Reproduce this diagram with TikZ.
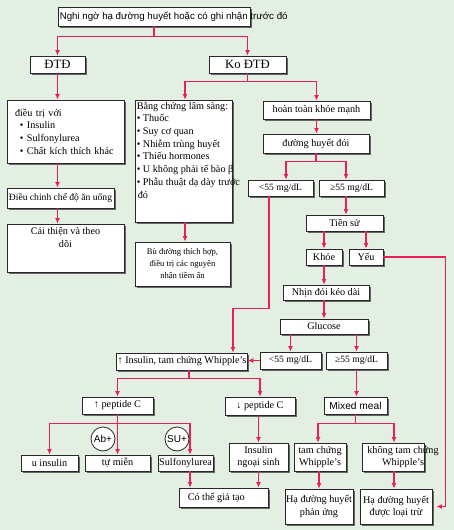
\documentclass[tikz,border=0pt]{standalone}
\usepackage{fontspec}
\setmainfont{Liberation Serif}
\setsansfont{Liberation Sans}
\usetikzlibrary{shadows,arrows.meta}
\definecolor{bgc}{RGB}{227,239,227}
\definecolor{arrc}{RGB}{230,32,88}
\definecolor{bordc}{RGB}{40,40,40}
\newcommand\myfn{\fontsize{10.2}{12.7}\selectfont}
\newcommand\mybig{\fontsize{12.7}{14}\selectfont}
\newcommand\mymg{\fontsize{9.6}{12}\selectfont}
\newcommand\mynarrow{\fontsize{8.6}{12}\selectfont}
\newcommand\mysans{\sffamily\fontsize{9.7}{12}\selectfont}
\begin{document}
\begin{tikzpicture}[x=1pt,y=-1pt,
  box/.style={draw=bordc,fill=white,line width=0.85pt,inner sep=1pt,
    drop shadow={shadow xshift=1.8pt,shadow yshift=-1.8pt,fill=black!60,opacity=1},
    font=\myfn},
  sz/.style 2 args={minimum width=#1pt,minimum height=#2pt},
  arr/.style={draw=arrc,line width=1.3pt,-{Latex[length=5.5pt,width=5pt]}},
  circ/.style={circle,draw=bordc,fill=white,line width=0.8pt,minimum size=24pt,inner sep=0pt,font=\sffamily\fontsize{10}{12}\selectfont},
  txt/.style={inner sep=0pt,font=\myfn}
]
\fill[bgc] (0,0) rectangle (454,530);
\useasboundingbox (0,0) rectangle (454,530);

% top
\node[box,sz={192}{19},label={[txt,anchor=west,xshift=2pt,font=\mysans]west:{Nghi ngờ hạ đường huyết hoặc có ghi nhận trước đó}}] (top) at (154,16.5) {};
\node[box,sz={55}{17},font=\mybig] (dtd) at (57.5,64.5) {ĐTĐ};
\node[box,sz={77}{17},font=\mybig] (kodtd) at (247.5,64.5) {Ko ĐTĐ};

% left column
\node[box,sz={117}{63},text width=101pt,align=left] (dtri) at (65.5,131.5)
  {điều trị với\\\hspace*{5pt}• Insulin\\\hspace*{5pt}• Sulfonylurea\\\hspace*{5pt}• Chất kích thích khác};
\node[box,sz={107}{20},font=\fontsize{9.6}{12}\selectfont] (dieuchinh) at (60.5,198) {Điều chỉnh chế độ ăn uống};
\node[box,sz={117}{48},label={[txt,anchor=north,yshift=-4pt,align=center]north:{Cải thiện và theo\\dõi}}] (caithien) at (65.5,248) {};

% middle column
\node[box,sz={97}{122},label={[txt,anchor=north west,xshift=2pt,yshift=-2pt,align=left]north west:{Bằng chứng lâm sàng:\\• Thuốc\\• Suy cơ quan\\• Nhiễm trùng huyết\\• Thiếu hormones\\• U không phải tế bào β\\• Phẫu thuật dạ dày trước\\\hspace*{1pt}đó}}] (bang) at (183.5,161) {};
\node[box,sz={95}{44},align=center,font=\mynarrow] (bu) at (182.5,264) {Bù đường thích hợp,\\điều trị các nguyên\\nhân tiềm ẩn};

% right column
\node[box,sz={107}{18}] (hoan) at (316.5,110) {hoàn toàn khỏe mạnh};
\node[box,sz={106}{19}] (duong) at (316,143.5) {đường huyết đói};
\node[box,sz={65}{16},font=\mymg] (lt1) at (280.5,188) {<55 mg/dL};
\node[box,sz={65}{16},font=\mymg] (ge1) at (351.5,188) {≥55 mg/dL};
\node[box,sz={77}{16}] (tiensu) at (344.5,223) {Tiền sử};
\node[box,sz={36}{16}] (khoe) at (324,257) {Khỏe};
\node[box,sz={34}{16}] (yeu) at (366,257) {Yếu};
\node[box,sz={86}{15}] (nhin) at (326,292.5) {Nhịn đói kéo dài};
\node[box,sz={88}{15}] (glucose) at (324,326.5) {Glucose};
\node[box,sz={61}{17},font=\mymg] (lt2) at (290.5,360.5) {<55 mg/dL};
\node[box,sz={61}{17},font=\mymg] (ge2) at (356.5,360.5) {≥55 mg/dL};

% lower part
\node[box,sz={130}{17}] (upins) at (182,361.5) {↑ Insulin, tam chứng Whipple’s};
\node[box,sz={71}{17}] (uppep) at (117.5,405.5) {↑ peptide C};
\node[box,sz={70}{18}] (downpep) at (260,406) {↓ peptide C};
\node[box,sz={63}{17},font=\sffamily\fontsize{10.2}{12}\selectfont] (mixed) at (355.5,405.5) {Mixed meal};
\node[box,sz={57}{16}] (uins) at (49.5,463) {u insulin};
\node[box,sz={65}{16}] (tumien) at (117.5,463) {tự miễn};
\node[box,sz={55}{16}] (sulf) at (185.5,463) {Sulfonylurea};
\node[circ] (ab) at (103,439) {Ab+};
\node[circ] (su) at (177,439) {SU+};
\node[box,sz={59}{28},align=center] (insng) at (258.5,457) {Insulin\\ngoại sinh};
\node[box,sz={89}{19},label={[txt,anchor=west,xshift=9pt]west:{Có thể giả tạo}}] (cothe) at (223.5,497.5) {};
\node[box,sz={52}{28},align=center] (tamch) at (320,457) {tam chứng\\Whipple’s};
\node[box,sz={62}{28},label={[txt,align=center,xshift=10pt]center:{không tam chứng\\Whipple’s}}] (khongtam) at (393,457) {};
\node[box,sz={68}{35},align=center] (hapu) at (319,506.5) {Hạ đường huyết\\phản ứng};
\node[box,sz={72}{35},align=center] (haloai) at (396,506.5) {Hạ đường huyết\\được loại trừ};

% connectors
\draw[arr] (top.south) -- ++(0,10) -| (dtd.north);
\draw[arr] (top.south) -- ++(0,10) -| (kodtd.north);
\draw[arr] (dtd.south) -- (dtd.south |- dtri.north);
\draw[arr] (dtd.south |- dtri.south) -- (dtd.south |- dieuchinh.north);
\draw[arr] (dtd.south |- dieuchinh.south) -- (dtd.south |- caithien.north);
\draw[arr] (kodtd.south) -- ++(0,8) -| ([xshift=1.5pt]bang.north);
\draw[arr] (kodtd.south) -- ++(0,8) -| (hoan.north);
\draw[arr] ([xshift=1.5pt]bang.south) -- ([xshift=1.5pt]bang.south |- bu.north);
\draw[arr] (hoan.south) -- (hoan.south |- duong.north);
\draw[arr] (duong.south) -- ++(0,8) -| ([xshift=5.5pt]lt1.north);
\draw[arr] (duong.south) -- ++(0,8) -| ([xshift=-5.5pt]ge1.north);
\draw[arr] ([xshift=-5.5pt]ge1.south) -- ([xshift=-5.5pt]ge1.south |- tiensu.north);
\draw[arr] (khoe.north |- tiensu.south) -- (khoe.north);
\draw[arr] (yeu.north |- tiensu.south) -- (yeu.north);
\draw[arr] (yeu.east) -- ++(62,0) |- ([xshift=4pt]haloai.east);
\draw[arr] ([xshift=-11.5pt]lt1.south) -- ++(0,112) -| ([xshift=51pt]upins.north);
\draw[arr] (khoe.south) -- (khoe.south |- nhin.north);
\draw[arr] (khoe.south |- nhin.south) -- (khoe.south |- glucose.north);
\draw[arr] (lt2.north |- glucose.south) -- (lt2.north);
\draw[arr] (ge2.north |- glucose.south) -- (ge2.north);
\draw[arr] (lt2.west) -- (lt2.west -| upins.east);
\draw[arr] (ge2.south) -- (ge2.south |- mixed.north);
\draw[arr] ([xshift=7pt]upins.south) -- ++(0,8) -| (uppep.north);
\draw[arr] ([xshift=7pt]upins.south) -- ++(0,8) -| (downpep.north);
\draw[arr] (uppep.south) -- ++(0,9) -| (uins.north);
\draw[arr] (uppep.south) -- ++(0,9) -| (tumien.north);
\draw[arr] (uppep.south) -- ++(0,9) -| ([xshift=4.5pt]sulf.north);
\draw[arr] ([xshift=4.5pt]sulf.south) -- ([xshift=4.5pt]sulf.south |- cothe.north);
\draw[arr] ([xshift=-1.5pt]downpep.south) -- ([xshift=-1.5pt]downpep.south |- insng.north);
\draw[arr] (insng.south) -- (insng.south |- cothe.north);
\draw[arr] (mixed.south) -- ++(0,9) -| ([xshift=-2pt]tamch.north);
\draw[arr] (mixed.south) -- ++(0,9) -| ([xshift=1pt]khongtam.north);
\draw[arr] ([xshift=-1pt]tamch.south) -- ([xshift=-1pt]tamch.south |- hapu.north);
\draw[arr] ([xshift=1pt]khongtam.south) -- ([xshift=1pt]khongtam.south |- haloai.north);
\end{tikzpicture}
\end{document}
